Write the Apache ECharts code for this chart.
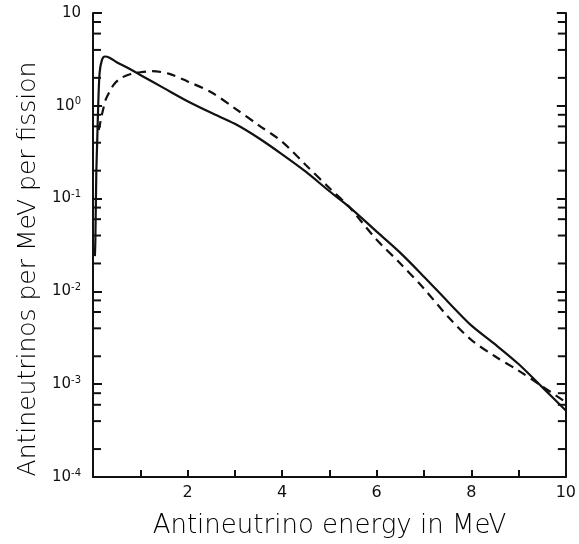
<!DOCTYPE html>
<html>
<head>
<meta charset="utf-8">
<script src="https://cdn.jsdelivr.net/npm/echarts@6/dist/echarts.min.js"></script>
<style>
  html, body { margin: 0; padding: 0; background: #fff; }
  #chart { width: 579px; height: 544px; }
</style>
</head>
<body>
<div id="chart"></div>
<script>
  // solid curve (energy in MeV, antineutrinos per MeV per fission)
  var solidE = [0.04, 0.05, 0.07, 0.09, 0.11, 0.14, 0.19, 0.25, 0.35, 0.5, 0.73, 1.0, 1.5, 2.0, 2.5, 3.0, 3.5, 4.0, 4.5, 5.0, 5.4, 6.0, 6.5, 7.0, 7.5, 8.0, 8.5, 9.0, 9.5, 10.0];
  var solidV = [0.024, 0.036, 0.19, 0.43, 1.0, 2.27, 3.13, 3.4, 3.3, 2.95, 2.57, 2.15, 1.55, 1.12, 0.84, 0.64, 0.45, 0.30, 0.195, 0.12, 0.083, 0.044, 0.026, 0.0144, 0.0078, 0.0043, 0.0027, 0.00165, 0.00093, 0.00052];

  // dashed curve
  var dashE = [0.12, 0.16, 0.2, 0.27, 0.35, 0.45, 0.6, 0.8, 1.0, 1.25, 1.6, 2.0, 2.5, 3.0, 3.5, 4.0, 4.5, 5.0, 5.4, 6.0, 6.5, 7.0, 7.5, 8.0, 8.5, 9.0, 9.5, 10.0];
  var dashV = [0.55, 0.68, 0.85, 1.17, 1.42, 1.72, 2.0, 2.2, 2.3, 2.36, 2.22, 1.83, 1.4, 0.94, 0.62, 0.41, 0.23, 0.13, 0.083, 0.036, 0.02, 0.0107, 0.0054, 0.003, 0.002, 0.0014, 0.00095, 0.00064];

  // minor ticks on the log axis (2, 4, 6, 8 in each decade)
  var minorTicks = [0.0002, 0.0004, 0.0006, 0.0008, 0.002, 0.004, 0.006, 0.008, 0.02, 0.04, 0.06, 0.08, 0.2, 0.4, 0.6, 0.8, 2, 4, 6, 8];

  function pairs(xs, ys) {
    var out = [];
    for (var i = 0; i < xs.length; i++) out.push([xs[i], ys[i]]);
    return out;
  }

  var ink = '#111';
  var font = 'DejaVu Sans';

  var chart = echarts.init(document.getElementById('chart'));
  var option = {
    backgroundColor: '#fff',
    animation: false,
    grid: { left: 93, right: 8, top: 13, bottom: 65 },
    xAxis: {
      type: 'value',
      min: 0,
      max: 10,
      interval: 1,
      name: 'Antineutrino energy in MeV',
      nameLocation: 'middle',
      nameGap: 36,
      nameTextStyle: { fontFamily: font, fontWeight: 200, fontSize: 26, color: '#000' },
      axisLine: { lineStyle: { color: ink, width: 2 } },
      axisTick: { inside: true, length: 7, lineStyle: { color: ink, width: 2 } },
      axisLabel: {
        fontFamily: font, fontSize: 16, color: ink, margin: 8,
        formatter: function (v) { return (v > 0 && v % 2 === 0) ? String(v) : ''; }
      },
      splitLine: { show: false }
    },
    yAxis: [{
      type: 'log',
      logBase: 10,
      min: 0.0001,
      max: 10,
      name: 'Antineutrinos per MeV per fission',
      nameLocation: 'middle',
      nameGap: 44,
      nameTextStyle: { fontFamily: font, fontWeight: 200, fontSize: 25, color: '#000', padding: [0, 0, 0, -48] },
      axisLine: { show: true, lineStyle: { color: ink, width: 2 } },
      axisTick: { inside: true, length: 9, lineStyle: { color: ink, width: 2 } },
      axisLabel: {
        fontFamily: font, fontSize: 15, color: ink, margin: 12,
        formatter: function (v) {
          var e = Math.round(Math.log10(v));
          if (e === 1) return '10';
          return '10{s|' + e + '}';
        },
        rich: { s: { fontFamily: font, fontSize: 10, color: ink, verticalAlign: 'top', padding: [0, 0, 8, 0] } }
      },
      splitLine: { show: false }
    }, {
      type: 'log',
      logBase: 10,
      min: 0.0001,
      max: 10,
      position: 'right',
      axisLine: { show: true, lineStyle: { color: ink, width: 2 } },
      axisTick: { inside: true, length: 9, lineStyle: { color: ink, width: 2 } },
      axisLabel: { show: false },
      splitLine: { show: false }
    }],
    series: [{
      name: 'solid',
      type: 'line',
      data: pairs(solidE, solidV),
      smooth: 0.3,
      showSymbol: false,
      lineStyle: { color: ink, width: 2.2 }
    }, {
      name: 'dashed',
      type: 'line',
      data: pairs(dashE, dashV),
      smooth: 0.3,
      showSymbol: false,
      lineStyle: { color: ink, width: 2.2, type: [9, 6] }
    }, {
      name: 'minor ticks',
      type: 'custom',
      data: minorTicks.map(function (v) { return [v]; }),
      encode: { y: 0 },
      silent: true,
      renderItem: function (params, api) {
        var l = api.coord([0, api.value(0)]);
        var r = api.coord([10, api.value(0)]);
        return {
          type: 'group',
          children: [
            { type: 'line', shape: { x1: l[0], y1: l[1], x2: l[0] + 8, y2: l[1] }, style: { stroke: ink, lineWidth: 2 } },
            { type: 'line', shape: { x1: r[0], y1: r[1], x2: r[0] - 8, y2: r[1] }, style: { stroke: ink, lineWidth: 2 } }
          ]
        };
      }
    }]
  };
  chart.setOption(option);
</script>
</body>
</html>
